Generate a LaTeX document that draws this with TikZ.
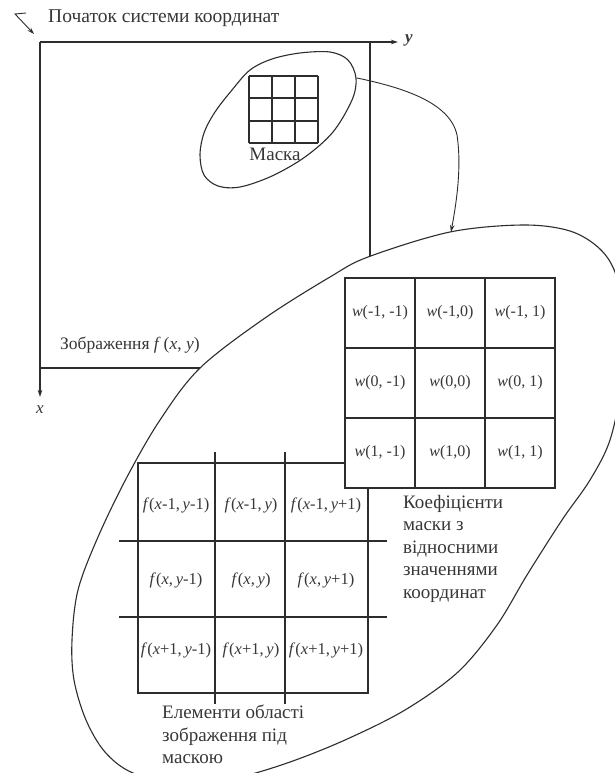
\documentclass[tikz,border=0pt]{standalone}
\usepackage{fontspec}
\setmainfont{Liberation Serif}
\usetikzlibrary{arrows.meta}
\definecolor{ink}{RGB}{45,45,45}
\definecolor{txt}{RGB}{55,55,55}
\begin{document}
\begin{tikzpicture}[x=1pt,y=-1pt,
  line/.style={draw=ink, line width=1.1pt},
  thinline/.style={draw=ink, line width=0.9pt},
  tip/.style={-{Stealth[length=7pt,width=4.5pt]}},
  wcell/.style={font=\fontsize{16}{16}\selectfont, text=txt, inner sep=0pt},
  fcell/.style={font=\fontsize{16.5}{16.5}\selectfont, text=txt, inner sep=0pt},
  lbl/.style={font=\fontsize{19}{22.5}\selectfont, text=txt, inner sep=0pt, align=left},
]
\useasboundingbox[fill=white] (0,0) rectangle (615,773);

% origin marker and title
\coordinate (m1) at (26,13);
\coordinate (m2) at (15,14);
\coordinate (m3) at (34,34);
\draw[thinline,tip] (m1) -- (m2) -- (m3);
\node[lbl, font=\fontsize{19.5}{22}\selectfont, anchor=west] (title) at (48,18) {Початок системи координат};

% axes and image frame
\coordinate (O) at (40,42);
\coordinate (Y) at (398,42);
\coordinate (X) at (40,397);
\coordinate (R) at (370,42);
\coordinate (RB) at (370,368);
\coordinate (LB) at (40,368);
\draw[line,tip] (O) -- (Y);
\draw[line,tip] (O) -- (X);
\draw[line] (R) -- (RB) -- (LB);
\node[lbl, font=\fontsize{17}{17}\selectfont\bfseries\itshape] (ylab) at (409,40) {y};
\node[lbl, font=\fontsize{17}{17}\selectfont\itshape] (xlab) at (40,410) {x};
\node[lbl, font=\fontsize{17.5}{20}\selectfont, anchor=west] (img) at (60,345) {Зображення \textit{f}\,(\textit{x}, \textit{y})};

% small ellipse with mask
\draw[line] plot[smooth cycle, tension=0.55] coordinates {
 (250,70) (272,59) (300,53) (330,52) (348,60) (356,78) (352,100) (333,132)
 (305,157) (272,176) (240,187) (218,186) (204,175) (200,155) (204,133) (215,112) (232,90)};
\foreach \xx in {249,272,295,318} \draw[line] (\xx,76) -- (\xx,143);
\foreach \yy in {76,98,121,143} \draw[line] (249,\yy) -- (318,\yy);
\node[lbl] (mask) at (275,154) {Маска};
\coordinate (s) at (357,78);

% big ellipse
\draw[line, fill=white] plot[smooth cycle, tension=0.55] coordinates {
 (265,318) (330,277) (368,257) (450,232) (523,225) (570,231) (600,249) (616,275)
 (623,320) (621,385) (610,440) (590,480) (562,520) (527,575) (497,625) (458,672)
 (405,710) (345,740) (290,762) (240,777) (185,786) (133,773) (105,752) (86,720)
 (74,680) (72,640) (78,590) (98,537) (127,477) (160,420) (200,368)};
\coordinate (t) at (451,232);

% curved connector
\draw[thinline,tip] (s) .. controls (405,88) and (450,103) .. (457,135)
  .. controls (462,168) and (456,205) .. (t);

% image elements grid
\draw[line] (138,463) rectangle (368,693);
\foreach \xx in {215,285} \draw[line] (\xx,452) -- (\xx,704);
\foreach \yy in {541,617} \draw[line] (119,\yy) -- (387,\yy);

% mask coefficients grid
\draw[line, fill=white] (345,278) rectangle (555,488);
\foreach \xx in {415,485} \draw[line] (\xx,278) -- (\xx,488);
\foreach \yy in {348,418} \draw[line] (345,\yy) -- (555,\yy);

\node[wcell] (w11) at (380,313) {\textit{w}(-1, -1)};
\node[wcell] (w12) at (450,313) {\textit{w}(-1,0)};
\node[wcell] (w13) at (520,313) {\textit{w}(-1, 1)};
\node[wcell] (w21) at (380,383) {\textit{w}(0, -1)};
\node[wcell] (w22) at (450,383) {\textit{w}(0,0)};
\node[wcell] (w23) at (520,383) {\textit{w}(0, 1)};
\node[wcell] (w31) at (380,453) {\textit{w}(1, -1)};
\node[wcell] (w32) at (450,453) {\textit{w}(1,0)};
\node[wcell] (w33) at (520,453) {\textit{w}(1, 1)};

\node[fcell] (f11) at (176,505) {\textit{f}(\textit{x}-1,\,\textit{y}-1)};
\node[fcell] (f12) at (251,505) {\textit{f}(\textit{x}-1,\,\textit{y})};
\node[fcell] (f13) at (326,505) {\textit{f}(\textit{x}-1,\,\textit{y}+1)};
\node[fcell] (f21) at (176,580) {\textit{f}(\textit{x},\,\textit{y}-1)};
\node[fcell] (f22) at (251,580) {\textit{f}(\textit{x},\,\textit{y})};
\node[fcell] (f23) at (326,580) {\textit{f}(\textit{x},\,\textit{y}+1)};
\node[fcell] (f31) at (176,650) {\textit{f}(\textit{x}+1,\,\textit{y}-1)};
\node[fcell] (f32) at (251,650) {\textit{f}(\textit{x}+1,\,\textit{y})};
\node[fcell] (f33) at (326,650) {\textit{f}(\textit{x}+1,\,\textit{y}+1)};

\node[lbl, anchor=north west] (coef) at (403,495) {Коефіцієнти\\маски з\\відносними\\значеннями\\координат};
\node[lbl, anchor=north west] (elem) at (162,705) {Елементи області\\зображення під\\маскою};
\end{tikzpicture}
\end{document}
